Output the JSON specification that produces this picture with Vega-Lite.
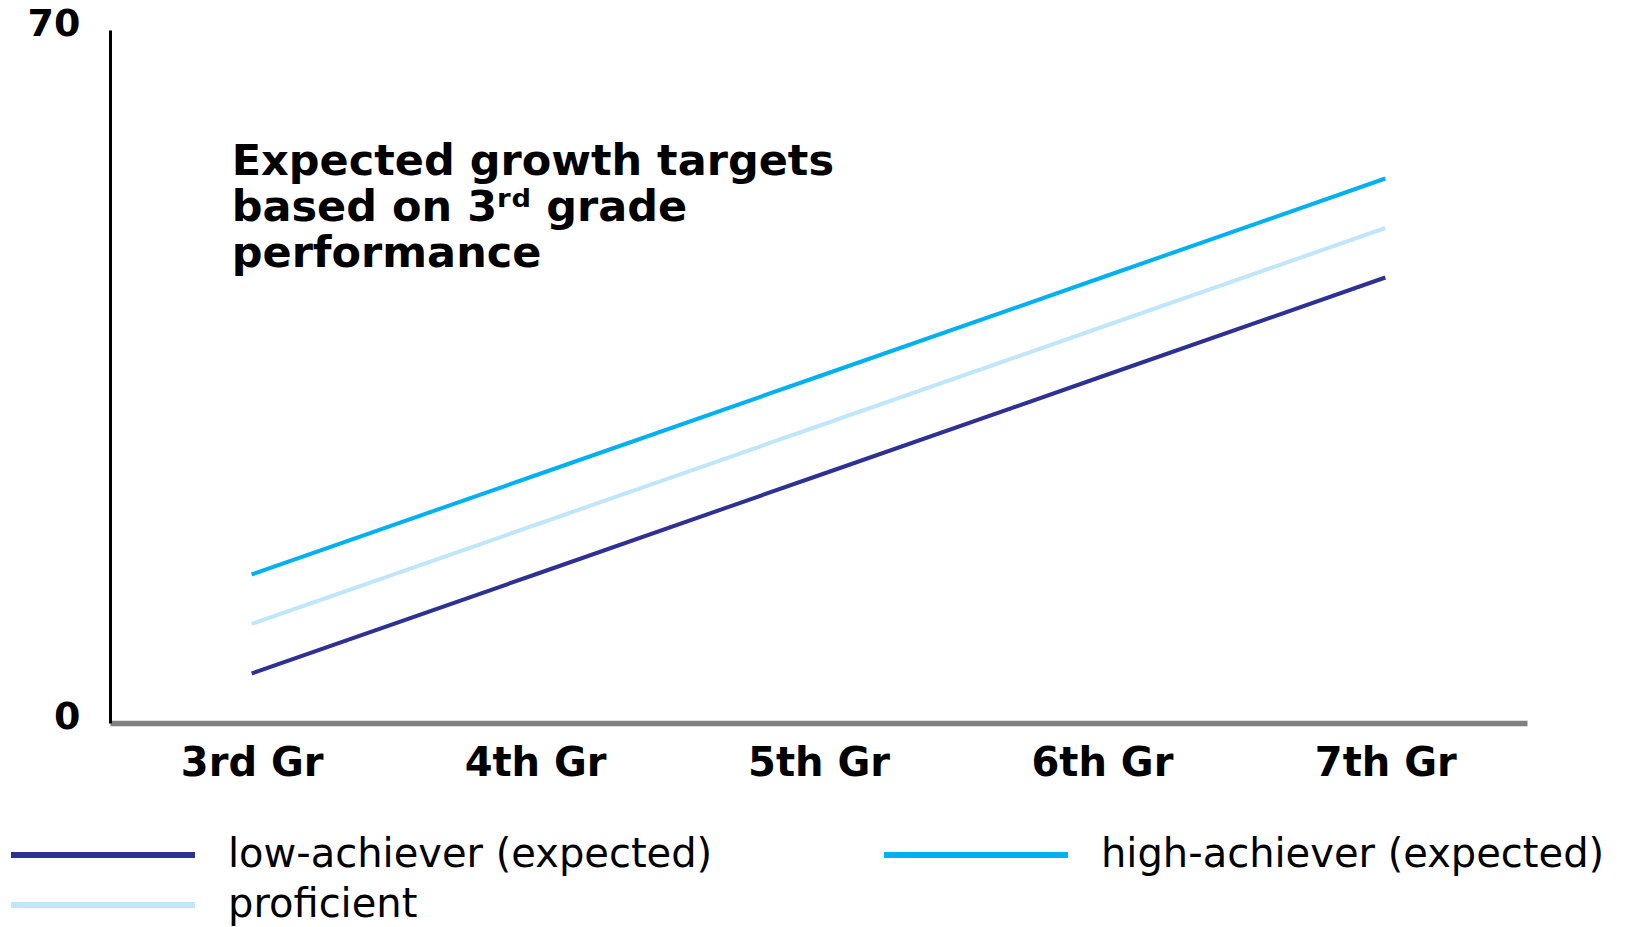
{
  "$schema": "https://vega.github.io/schema/vega-lite/v6.json",
  "width": 1417,
  "height": 693,
  "autosize": {"type": "none"},
  "padding": {"left": 110, "top": 30, "right": 114, "bottom": 204},
  "background": "white",
  "config": {"view": {"stroke": null}, "font": "DejaVu Sans"},
  "layer": [
    {
      "data": {
        "values": [
          {"grade": "3rd Gr", "group": "low-achiever (expected)", "value": 5},
          {"grade": "4th Gr", "group": "low-achiever (expected)", "value": 15},
          {"grade": "5th Gr", "group": "low-achiever (expected)", "value": 25},
          {"grade": "6th Gr", "group": "low-achiever (expected)", "value": 35},
          {"grade": "7th Gr", "group": "low-achiever (expected)", "value": 45},
          {"grade": "3rd Gr", "group": "proficient", "value": 10},
          {"grade": "4th Gr", "group": "proficient", "value": 20},
          {"grade": "5th Gr", "group": "proficient", "value": 30},
          {"grade": "6th Gr", "group": "proficient", "value": 40},
          {"grade": "7th Gr", "group": "proficient", "value": 50},
          {"grade": "3rd Gr", "group": "high-achiever (expected)", "value": 15},
          {"grade": "4th Gr", "group": "high-achiever (expected)", "value": 25},
          {"grade": "5th Gr", "group": "high-achiever (expected)", "value": 35},
          {"grade": "6th Gr", "group": "high-achiever (expected)", "value": 45},
          {"grade": "7th Gr", "group": "high-achiever (expected)", "value": 55}
        ]
      },
      "mark": {"type": "line", "strokeWidth": 4},
      "encoding": {
        "x": {
          "field": "grade",
          "type": "ordinal",
          "sort": ["3rd Gr", "4th Gr", "5th Gr", "6th Gr", "7th Gr"],
          "scale": {"type": "point", "padding": 0.5},
          "axis": {
            "title": null,
            "labelAngle": 0,
            "ticks": false,
            "grid": false,
            "domainColor": "#808080",
            "domainWidth": 5.5,
            "labelFont": "DejaVu Sans",
            "labelFontWeight": "bold",
            "labelFontSize": 40,
            "labelColor": "black",
            "labelPadding": 20,
            "labelBaseline": "top"
          }
        },
        "y": {
          "field": "value",
          "type": "quantitative",
          "scale": {"domain": [0, 70], "nice": false},
          "axis": {
            "title": null,
            "values": [0, 70],
            "ticks": false,
            "grid": false,
            "domainColor": "black",
            "domainWidth": 3,
            "labelFont": "DejaVu Sans",
            "labelFontWeight": "bold",
            "labelFontSize": 38,
            "labelColor": "black",
            "labelPadding": 30,
            "labelOffset": -6,
            "labelBaseline": "middle"
          }
        },
        "color": {
          "field": "group",
          "type": "nominal",
          "scale": {
            "domain": ["low-achiever (expected)", "high-achiever (expected)", "proficient"],
            "range": ["#2E3192", "#00B0F0", "#C0E6FA"]
          },
          "legend": {
            "orient": "none",
            "legendX": -102,
            "legendY": 805,
            "direction": "horizontal",
            "columns": 2,
            "title": null,
            "symbolType": "stroke",
            "symbolSize": 33856,
            "symbolStrokeWidth": 6,
            "clipHeight": 40,
            "rowPadding": 10,
            "columnPadding": 168,
            "labelFont": "DejaVu Sans",
            "labelFontSize": 40,
            "labelColor": "black",
            "labelLimit": 1000,
            "labelOffset": 30,
            "padding": 0,
            "symbolOffset": 0,
            "encode": {"symbols": {"update": {"strokeWidth": {"value": 6}}}}
          }
        }
      }
    },
    {
      "data": {
        "values": [
          {"grade": "3rd Gr", "value": 55.4, "label": "Expected growth targets\nbased on 3ʳᵈ grade\nperformance"}
        ]
      },
      "mark": {
        "type": "text",
        "align": "left",
        "baseline": "alphabetic",
        "dx": -20,
        "fontSize": 43,
        "fontWeight": "bold",
        "lineHeight": 46,
        "lineBreak": "\n",
        "font": "DejaVu Sans",
        "color": "black"
      },
      "encoding": {
        "x": {"field": "grade", "type": "ordinal"},
        "y": {"field": "value", "type": "quantitative"},
        "text": {"field": "label"}
      }
    }
  ]
}
